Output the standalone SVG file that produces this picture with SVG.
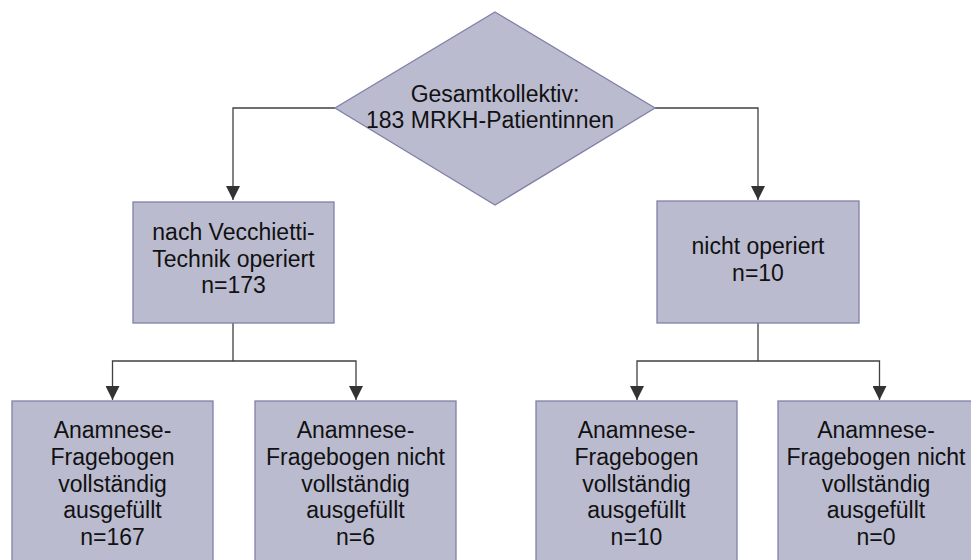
<svg xmlns="http://www.w3.org/2000/svg" width="971" height="560" viewBox="0 0 971 560">
<defs>
<style>
.shape{fill:#bbbbd0;stroke:#8080a8;stroke-width:1.3}
.conn{fill:none;stroke:#404040;stroke-width:1.3}
.lbl{font-family:"Liberation Sans",Arial,sans-serif;font-size:23px;fill:#111;text-anchor:middle}
</style>
<marker id="arr" markerWidth="16" markerHeight="14" refX="15" refY="7.5" orient="auto" markerUnits="userSpaceOnUse" viewBox="0 0 16 15">
<path d="M0,0 L15,7.5 L0,15 Z" fill="#333"/>
</marker>
</defs>
<rect width="971" height="560" fill="#fff"/>
<g id="connectors">
<path class="conn" d="M335,108 H233 V200" marker-end="url(#arr)"/>
<path class="conn" d="M655,108 H758 V200" marker-end="url(#arr)"/>
<path class="conn" d="M233,323 V361 H112.5 V400" marker-end="url(#arr)"/>
<path class="conn" d="M233,361 H356 V400" marker-end="url(#arr)"/>
<path class="conn" d="M758,323 V361 H637 V400" marker-end="url(#arr)"/>
<path class="conn" d="M758,361 H879.5 V400" marker-end="url(#arr)"/>
</g>
<g id="n_gesamt">
<polygon class="shape" points="495,12 655,108 495,205 335,108"/>
<text class="lbl" x="495" y="101.7">Gesamtkollektiv:</text>
<text class="lbl" x="490" y="128.3">183 MRKH-Patientinnen</text>
</g>
<g id="n_operiert">
<rect class="shape" x="133" y="202" width="201" height="121"/>
<text class="lbl" x="233.5" y="240">nach Vecchietti-</text>
<text class="lbl" x="233.5" y="266.7">Technik operiert</text>
<text class="lbl" x="233.5" y="293.3">n=173</text>
</g>
<g id="n_nicht_operiert">
<rect class="shape" x="657" y="201" width="202" height="122"/>
<text class="lbl" x="758" y="254">nicht operiert</text>
<text class="lbl" x="758" y="280.7">n=10</text>
</g>
<g id="n_a1">
<rect class="shape" x="12" y="401" width="201" height="170"/>
<text class="lbl" x="112.5" y="438.3">Anamnese-</text>
<text class="lbl" x="112.5" y="465">Fragebogen</text>
<text class="lbl" x="112.5" y="491.7">vollständig</text>
<text class="lbl" x="112.5" y="518.3">ausgefüllt</text>
<text class="lbl" x="112.5" y="545">n=167</text>
</g>
<g id="n_a2">
<rect class="shape" x="255" y="401" width="201" height="170"/>
<text class="lbl" x="355.5" y="438.3">Anamnese-</text>
<text class="lbl" x="355.5" y="465">Fragebogen nicht</text>
<text class="lbl" x="355.5" y="491.7">vollständig</text>
<text class="lbl" x="355.5" y="518.3">ausgefüllt</text>
<text class="lbl" x="355.5" y="545">n=6</text>
</g>
<g id="n_b1">
<rect class="shape" x="536" y="401" width="201" height="170"/>
<text class="lbl" x="636.5" y="438.3">Anamnese-</text>
<text class="lbl" x="636.5" y="465">Fragebogen</text>
<text class="lbl" x="636.5" y="491.7">vollständig</text>
<text class="lbl" x="636.5" y="518.3">ausgefüllt</text>
<text class="lbl" x="636.5" y="545">n=10</text>
</g>
<g id="n_b2">
<rect class="shape" x="778" y="401" width="203" height="170"/>
<text class="lbl" x="876" y="438.3">Anamnese-</text>
<text class="lbl" x="876" y="465">Fragebogen nicht</text>
<text class="lbl" x="876" y="491.7">vollständig</text>
<text class="lbl" x="876" y="518.3">ausgefüllt</text>
<text class="lbl" x="876" y="545">n=0</text>
</g>
</svg>
